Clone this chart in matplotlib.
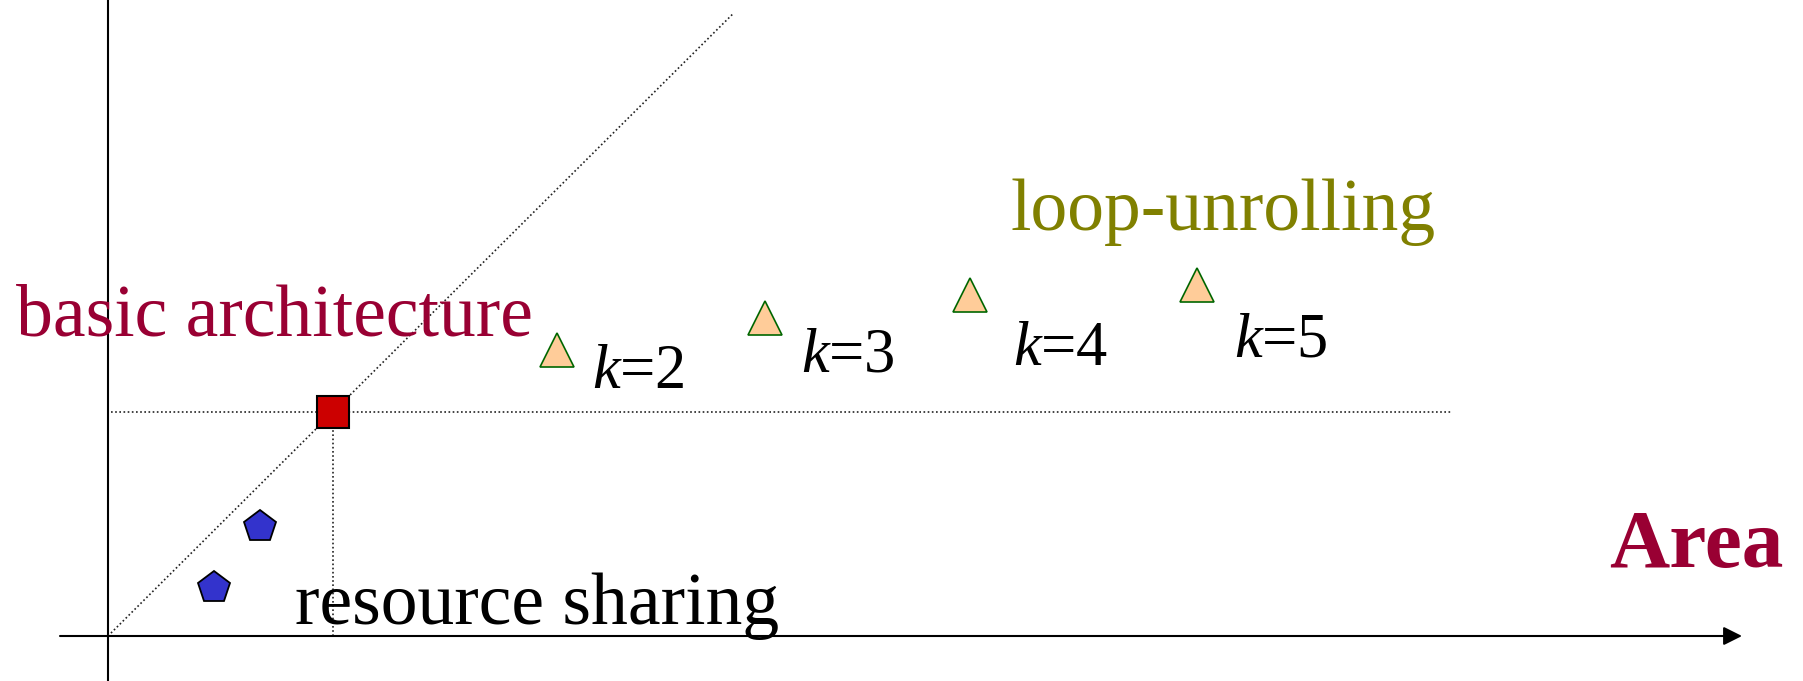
import matplotlib
matplotlib.use("Agg")
import matplotlib.pyplot as plt

plt.rcParams['font.family'] = ['Liberation Serif', 'DejaVu Serif']
plt.rcParams['mathtext.fontset'] = 'custom'
plt.rcParams['mathtext.rm'] = 'Liberation Serif'
plt.rcParams['mathtext.it'] = 'Liberation Serif:italic'

# ---- data (area on x, the other metric on y) ----
basic_x = [2.25]
basic_y = [2.24]

sharing_x = [1.06, 1.52]
sharing_y = [0.48, 1.09]

unroll_k = [2, 3, 4, 5]
unroll_x = [4.49, 6.57, 8.62, 10.89]
unroll_y = [2.86, 3.18, 3.41, 3.51]

# label offsets (data units) for the k= labels
k_dx = [0.35, 0.36, 0.43, 0.37]
k_dy = [-0.38, -0.54, -0.70, -0.71]

fig = plt.figure(figsize=(18.03, 6.81), dpi=100)
ax = fig.add_axes([0, 0, 1, 1])
ax.set_xlim(-1.08, 16.95)
ax.set_ylim(-0.45, 6.36)
ax.axis('off')

# ---- axes lines ----
ax.plot([0, 0], [-0.45, 6.36], color='black', lw=1.5, solid_capstyle='butt')
ax.annotate('', xy=(16.34, 0), xytext=(-0.48, 0),
            arrowprops=dict(arrowstyle='-|>,head_length=0.4,head_width=0.2',
                            lw=1.5, color='black', mutation_scale=28,
                            shrinkA=0, shrinkB=0))

# ---- guide lines through the basic architecture ----
slope = basic_y[0] / basic_x[0]
diag_end = 6.26
dots = (0, (1, 1.5))
ax.plot([0, diag_end], [0, diag_end * slope], color='#222222', lw=1.2,
        linestyle=dots, zorder=2)
ax.plot([0.03, 13.43], [basic_y[0], basic_y[0]], color='#222222', lw=1.2,
        linestyle=dots, zorder=2)
ax.plot([basic_x[0], basic_x[0]], [0, basic_y[0]], color='#222222', lw=1.2,
        linestyle=dots, zorder=2)

# ---- markers ----
ax.plot(basic_x, basic_y, linestyle='none', marker='s', markersize=23,
        markerfacecolor='#CC0000', markeredgecolor='black', markeredgewidth=1.5, zorder=5)
ax.plot(sharing_x, sharing_y, linestyle='none', marker='p', markersize=24,
        markerfacecolor='#3333CC', markeredgecolor='black', markeredgewidth=1.3, zorder=5)
ax.plot(unroll_x, unroll_y, linestyle='none', marker='^', markersize=24,
        markerfacecolor='#FFCC99', markeredgecolor='#006600', markeredgewidth=1.2, zorder=5)

# ---- labels ----
ax.text(-0.92, 3.01, 'basic architecture', color='#990033', fontsize=53,
        ha='left', va='baseline')
ax.text(1.87, 0.12, 'resource sharing', color='black', fontsize=53,
        ha='left', va='baseline')
ax.text(9.02, 4.06, 'loop-unrolling', color='#808000', fontsize=53,
        ha='left', va='baseline')
ax.text(15.01, 0.69, 'Area', color='#990033', fontsize=60, fontweight='bold',
        ha='left', va='baseline')

for k, x, y, dx, dy in zip(unroll_k, unroll_x, unroll_y, k_dx, k_dy):
    ax.text(x + dx, y + dy, r'$k$=' + str(k), color='black', fontsize=45,
            ha='left', va='baseline')

fig.savefig('out.png', dpi=100)
